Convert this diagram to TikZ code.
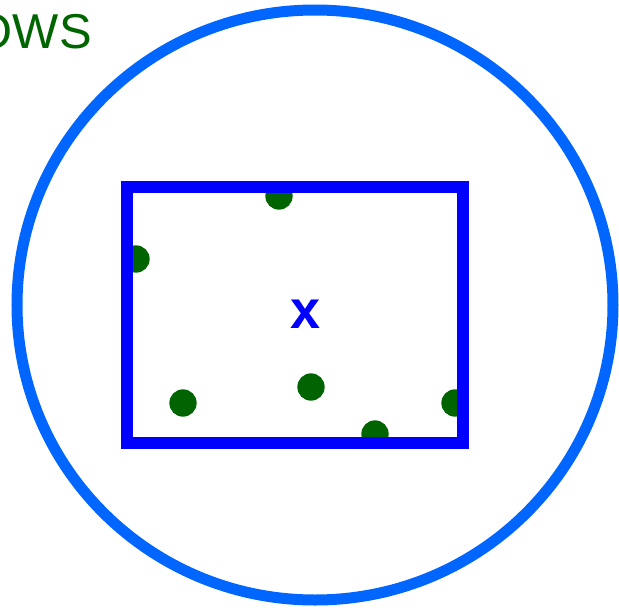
\documentclass[tikz,border=0pt]{standalone}
\usepackage{fontspec}
\setmainfont{Liberation Sans}
\usetikzlibrary{positioning}
\definecolor{ring}{HTML}{0066FF}
\definecolor{frame}{HTML}{0000FF}
\definecolor{leaf}{HTML}{006400}

\begin{document}
\begin{tikzpicture}[x=0.75pt,y=-0.75pt,
  dot/.style={circle,fill=leaf,minimum size=20.5pt,inner sep=0pt}]
  \useasboundingbox (0,0) rectangle (619,611);
  \clip (0,0) rectangle (619,611);
  \node[text=leaf,font=\fontsize{36.7}{36.7}\selectfont,anchor=base east,inner sep=0pt] (title) at (92,48) {OWS};
  % points, drawn under the frame
  \foreach \n/\px/\py in {a/279/196, b/136/259, c/183/403, d/311/387, e/375/434, f/455/403}
    \node[dot] (dot-\n) at (\px,\py) {};
  \draw[frame,line width=9pt] (127,187) rectangle (463,443);
  \draw[ring,line width=8.25pt] (315,305) ellipse [x radius=298,y radius=295];
  \node[text=frame,font=\bfseries\fontsize{40.5}{40.5}\selectfont,inner sep=0pt] (centre) at (305.5,314) {x};
\end{tikzpicture}
\end{document}
